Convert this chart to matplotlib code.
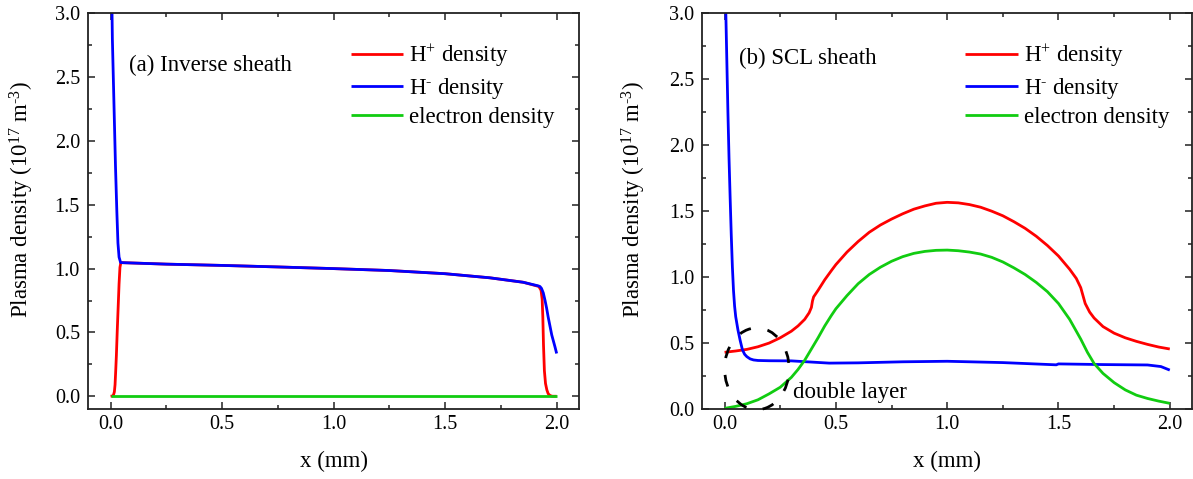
import matplotlib
matplotlib.use("Agg")
import matplotlib.pyplot as plt
from matplotlib.patches import Ellipse
from matplotlib.ticker import MultipleLocator, FormatStrFormatter

plt.rcParams["font.family"] = ["Liberation Serif", "DejaVu Serif"]
plt.rcParams["mathtext.fontset"] = "custom"
plt.rcParams["mathtext.rm"] = "Liberation Serif"
plt.rcParams["mathtext.it"] = "Liberation Serif:italic"
plt.rcParams["mathtext.bf"] = "Liberation Serif:bold"

# ---------------- (a) inverse sheath ----------------
xa_hplus = [0.0, 0.008, 0.013, 0.017, 0.02, 0.023, 0.026, 0.03, 0.034, 0.038,
            0.042, 0.046, 0.25, 0.5, 0.75, 1.0, 1.25, 1.5, 1.7, 1.85, 1.92,
            1.93, 1.935, 1.938, 1.941, 1.945, 1.95, 1.956, 1.962, 1.97,
            1.98, 2.0]
na_hplus = [0.0, 0.002, 0.01, 0.035, 0.09, 0.2, 0.32, 0.52, 0.7, 0.88,
            1.01, 1.047, 1.035, 1.025, 1.013, 1.0, 0.985, 0.96, 0.928, 0.893,
            0.86, 0.83, 0.76, 0.62, 0.40, 0.20, 0.10, 0.05, 0.02, 0.006,
            0.0, 0.0]

xa_hminus = [0.005, 0.008, 0.015, 0.022, 0.028, 0.033, 0.038, 0.045,
             0.25, 0.5, 0.75, 1.0, 1.25, 1.5, 1.7, 1.85, 1.917, 1.925,
             1.932, 1.94, 1.948, 1.955, 1.962, 1.97, 1.978, 1.985, 1.992,
             2.0]
na_hminus = [3.2, 2.8, 2.3, 1.8, 1.45, 1.2, 1.09, 1.047,
             1.035, 1.025, 1.013, 1.0, 0.985, 0.96, 0.928, 0.893, 0.865, 0.86,
             0.845, 0.81, 0.75, 0.69, 0.62, 0.55, 0.48, 0.435, 0.39,
             0.335]

xa_elec = [0.0, 2.0]
na_elec = [0.0, 0.0]

# ---------------- (b) SCL sheath ----------------
xb_hplus = [0.0, 0.05, 0.1, 0.15, 0.2, 0.25, 0.3, 0.33, 0.36, 0.38, 0.39,
            0.395, 0.40, 0.42, 0.45, 0.48, 0.5, 0.55, 0.6, 0.65, 0.7, 0.75,
            0.8, 0.85, 0.9, 0.95, 1.0, 1.05, 1.1, 1.15, 1.2, 1.25, 1.3,
            1.35, 1.4, 1.45, 1.5, 1.55, 1.58, 1.6, 1.61, 1.62, 1.64, 1.66,
            1.7, 1.75, 1.8, 1.85, 1.9, 1.95, 2.0]
nb_hplus = [0.43, 0.44, 0.452, 0.472, 0.50, 0.54, 0.59, 0.63, 0.68, 0.73, 0.77,
            0.82, 0.85, 0.90, 0.98, 1.05, 1.095, 1.19, 1.27, 1.34, 1.395, 1.44,
            1.48, 1.515, 1.54, 1.56, 1.567, 1.563, 1.55, 1.53, 1.50, 1.465, 1.42,
            1.37, 1.31, 1.24, 1.16, 1.06, 0.99, 0.92, 0.86, 0.80, 0.735, 0.69,
            0.625, 0.575, 0.54, 0.513, 0.49, 0.47, 0.455]

xb_hminus = [0.005, 0.01, 0.015, 0.02, 0.025, 0.03, 0.035, 0.04, 0.045,
             0.05, 0.06, 0.07, 0.08, 0.09, 0.1, 0.115, 0.13, 0.15, 0.2, 0.3,
             0.4, 0.47, 0.6, 0.8, 1.0, 1.25, 1.49, 1.5, 1.7, 1.9, 1.96, 2.0]
nb_hminus = [3.05, 2.65, 2.25, 1.9, 1.6, 1.32, 1.08, 0.9, 0.78,
             0.7, 0.6, 0.52, 0.45, 0.415, 0.397, 0.38, 0.372, 0.368, 0.366, 0.365,
             0.355, 0.348, 0.35, 0.358, 0.362, 0.352, 0.335, 0.342, 0.337, 0.334,
             0.322, 0.295]

xb_elec = [0.0, 0.05, 0.1, 0.15, 0.2, 0.25, 0.3, 0.33, 0.36, 0.39, 0.42,
           0.45, 0.48, 0.5, 0.55, 0.6, 0.65, 0.7, 0.75, 0.8, 0.85, 0.9, 0.95,
           1.0, 1.05, 1.1, 1.15, 1.2, 1.25, 1.3, 1.35, 1.4, 1.45, 1.5, 1.55,
           1.6, 1.63, 1.66, 1.7, 1.75, 1.8, 1.85, 1.9, 1.95, 2.0]
nb_elec = [0.005, 0.02, 0.04, 0.07, 0.115, 0.165, 0.24, 0.30, 0.37, 0.455, 0.54,
           0.63, 0.71, 0.76, 0.86, 0.95, 1.02, 1.075, 1.12, 1.155, 1.18, 1.195, 1.203,
           1.205, 1.2, 1.19, 1.175, 1.15, 1.115, 1.07, 1.02, 0.96, 0.89, 0.80, 0.68,
           0.53, 0.43, 0.345, 0.27, 0.2, 0.145, 0.105, 0.08, 0.06, 0.043]

HYPH = "\u2010"
series_labels = ["H$^{+}$ density", "H$^{" + HYPH + "}$ density", "electron density"]
series_colors = ["#ff0000", "#0000ff", "#11cc11"]
ylabel_text = "Plasma density (10$^{17}$ m$^{" + HYPH + "3}$)"

FS_TEXT = 16.5
FS_TICK = 14.5
LW = 2.0

fig = plt.figure(figsize=(11.93, 4.79), dpi=100)
ax_a = fig.add_axes([0.074, 0.1461, 0.4113, 0.8261])
ax_b = fig.add_axes([0.5887, 0.1461, 0.4105, 0.8261])


def style_axes(ax, ylim):
    ax.set_xlim(-0.1, 2.1)
    ax.set_ylim(*ylim)
    ax.xaxis.set_major_locator(MultipleLocator(0.5))
    ax.xaxis.set_minor_locator(MultipleLocator(0.25))
    ax.yaxis.set_major_locator(MultipleLocator(0.5))
    ax.yaxis.set_minor_locator(MultipleLocator(0.25))
    ax.xaxis.set_major_formatter(FormatStrFormatter("%.1f"))
    ax.yaxis.set_major_formatter(FormatStrFormatter("%.1f"))
    ax.tick_params(which="both", direction="in", top=True, right=True,
                   width=1.1, colors="#222222", labelcolor="black")
    ax.tick_params(which="major", length=5.2)
    ax.tick_params(which="minor", length=3.0)
    ax.tick_params(axis="x", pad=4, labelsize=FS_TICK)
    ax.tick_params(axis="y", pad=6, labelsize=FS_TICK)
    for sp in ax.spines.values():
        sp.set_linewidth(1.3)
        sp.set_color("#222222")
    ax.set_xlabel("x (mm)", fontsize=FS_TEXT)
    ax.set_ylabel(ylabel_text, fontsize=FS_TEXT)
    ax.xaxis.set_label_coords(0.5, -0.105)


def draw_panel(ax, xs, ns):
    lines = []
    for x, n, c, lab in zip(xs, ns, series_colors, series_labels):
        (ln,) = ax.plot(x, n, color=c, lw=LW, label=lab,
                        solid_joinstyle="round", solid_capstyle="butt")
        lines.append(ln)
    return lines


def add_legend(ax, lines, x0):
    ax.legend(handles=lines, loc="upper left", bbox_to_anchor=(x0, 0.925),
              frameon=False, fontsize=FS_TEXT, handlelength=2.3,
              handletextpad=0.25, labelspacing=0.28, borderpad=0,
              borderaxespad=0)


# panel (a)
lines_a = draw_panel(ax_a, [xa_hplus, xa_hminus, xa_elec],
                     [na_hplus, na_hminus, na_elec])
style_axes(ax_a, (-0.1, 3.0))
ax_a.yaxis.set_label_coords(-0.1066, 0.53)
ax_a.text(0.084, 0.869, "(a) Inverse sheath", transform=ax_a.transAxes,
          fontsize=FS_TEXT, ha="left", va="center")
add_legend(ax_a, lines_a, 0.5345)

# panel (b)
lines_b = draw_panel(ax_b, [xb_hplus, xb_hminus, xb_elec],
                     [nb_hplus, nb_hminus, nb_elec])
style_axes(ax_b, (0.0, 3.0))
ax_b.yaxis.set_label_coords(-0.111, 0.53)
ax_b.text(0.074, 0.886, "(b) SCL sheath", transform=ax_b.transAxes,
          fontsize=FS_TEXT, ha="left", va="center")
add_legend(ax_b, lines_b, 0.5367)

# dashed ellipse marking the double layer region
dl = Ellipse((0.145, 0.305), width=0.29, height=0.62, fill=False,
             edgecolor="black", lw=2.0, ls=(8.3, (4.3, 6.1)), clip_on=False,
             zorder=5)
ax_b.add_patch(dl)
ax_b.text(0.307, 0.129, "double layer", fontsize=FS_TEXT, ha="left",
          va="center")

fig.savefig("out.png", dpi=100)
